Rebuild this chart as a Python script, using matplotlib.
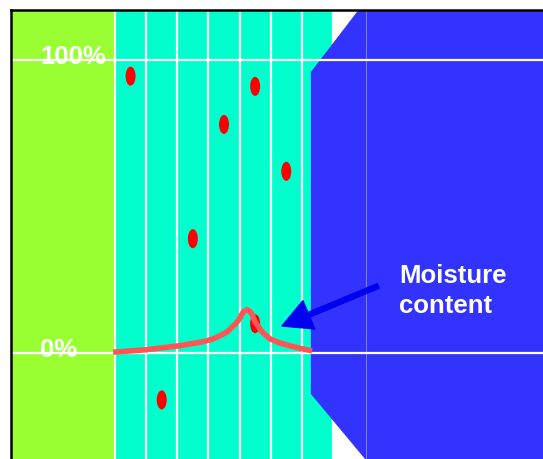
import numpy as np
import matplotlib.pyplot as plt
from matplotlib.patches import Ellipse, Rectangle, Polygon, FancyArrowPatch

plt.rcParams['font.family'] = ['Liberation Sans', 'DejaVu Sans']

# data (x in column units, y in percent)
N_COLS = 7
pct_ticks = [0, 100]
pct_labels = ['0%', '100%']

dot_col = [0.5, 1.5, 2.5, 3.5, 4.5, 4.5, 5.5]
dot_pct = [94.5, -16, 39, 78, 91, 10, 62]

curve_col = [-0.06, 0.90, 2.09, 2.41, 2.73, 2.95, 3.15, 3.37, 3.60, 3.79,
             3.95, 4.05, 4.13, 4.24, 4.32, 4.40, 4.50, 4.72, 4.98, 5.30, 5.78, 6.33]
curve_pct = [0.3, 1.0, 2.5, 3.1, 3.65, 4.2, 4.8, 5.9, 7.2, 9.1,
             10.9, 12.8, 14.2, 14.8, 14.3, 13.2, 10.6, 7.2, 4.8, 3.4, 2.0, 0.7]

arrow_tail = (8.45, 22.9)
arrow_tip = (5.36, 9.2)
note_text = 'Moisture\ncontent'

GREEN = '#99ff33'
CYAN = '#00ffcc'
BLUE = '#3333ff'

XLIM = (-3.33, 13.744)
YLIM = (-36.18, 116.96)

fig = plt.figure(figsize=(5.43, 4.60), dpi=100)
ax = fig.add_axes([11.3 / 543, 0, 1 - 11.3 / 543, 1 - 11.3 / 460])
ax.set_xlim(*XLIM)
ax.set_ylim(*YLIM)
ax.set_xticks([])
ax.set_yticks([])
for s in ['right', 'bottom']:
    ax.spines[s].set_visible(False)
for s in ['left', 'top']:
    ax.spines[s].set_linewidth(1.8)
    ax.spines[s].set_zorder(10)

# background zones
ax.add_patch(Rectangle((XLIM[0], YLIM[0]), 0 - XLIM[0], YLIM[1] - YLIM[0],
                       facecolor=GREEN, edgecolor='none', zorder=0))
ax.add_patch(Rectangle((0, YLIM[0]), N_COLS, YLIM[1] - YLIM[0],
                       facecolor=CYAN, edgecolor='none', zorder=0))
blue_shape = [(8.03, 120), (6.29, 95.9), (6.29, -14.0), (8.03, -36.2),
              (8.03, -40), (15, -40), (15, 120)]
ax.add_patch(Polygon(blue_shape, closed=True, facecolor=BLUE,
                     edgecolor='none', zorder=1))
ax.plot([8.06, 8.06], [YLIM[0], YLIM[1]], color='#8080ff', lw=0.7, zorder=1.5)

# column lines and percent lines
for c in range(N_COLS + 1):
    ax.plot([c, c], [YLIM[0], YLIM[1]], color='white', lw=1.6, zorder=0.5)
for t in pct_ticks:
    ax.plot([XLIM[0], XLIM[1]], [t, t], color='white', lw=1.6, zorder=2)
for t, lab in zip(pct_ticks, pct_labels):
    ax.text(-2.41, t - 1, lab, color='white', fontsize=18.5, fontweight='bold',
            ha='left', va='baseline', zorder=5)

# points
for c, p in zip(dot_col, dot_pct):
    ax.add_patch(Ellipse((c, p), 0.32, 6.5, facecolor='red', edgecolor='none', zorder=3))

# moisture curve
ax.plot(curve_col, curve_pct, color='#ff5555', lw=4.0, solid_capstyle='butt',
        solid_joinstyle='round', zorder=4)

# arrow + note
arr = FancyArrowPatch(arrow_tail, arrow_tip,
                      arrowstyle='simple,head_length=2.1,head_width=2.2,tail_width=0.36',
                      mutation_scale=10, color='#0000f0', shrinkA=0, shrinkB=0, zorder=5)
ax.add_patch(arr)
ax.text(9.12, 14.0, note_text, color='white', fontsize=18.5, fontweight='bold',
        ha='left', va='baseline', linespacing=1.32, zorder=5)

fig.savefig('out.png', dpi=100)
